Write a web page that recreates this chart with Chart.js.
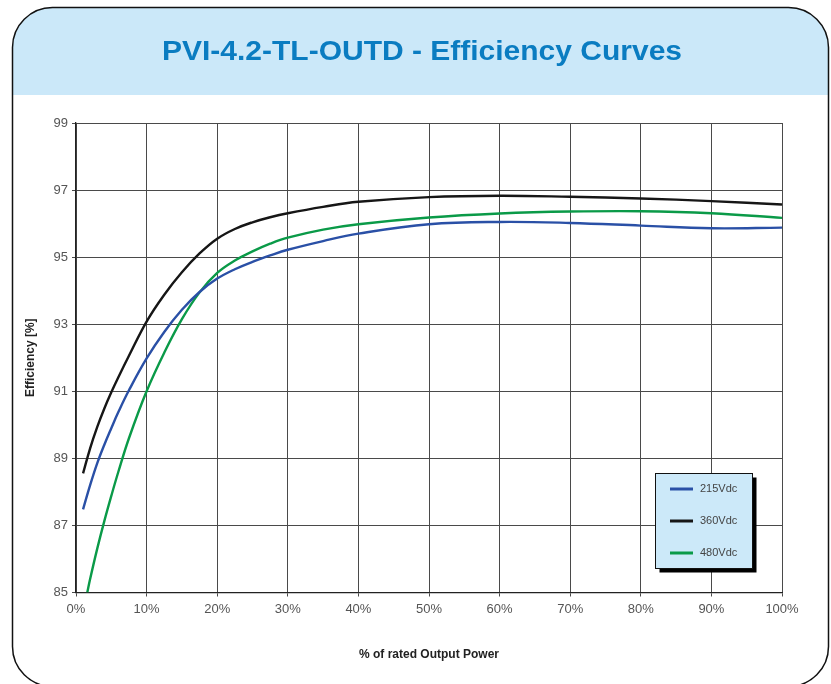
<!DOCTYPE html>
<html lang="en">
<head>
  <meta charset="UTF-8" />
  <title>PVI-4.2-TL-OUTD - Efficiency Curves</title>
  <script src="https://cdn.jsdelivr.net/npm/chart.js"></script>
  <style>
    html, body { margin: 0; padding: 0; background: #fff; }
    #wrap { width: 831px; height: 684px; }
  </style>
</head>
<body>
  <div id="wrap"><canvas id="effChart" width="831" height="684"></canvas></div>

  <script>
    const CHART_TITLE = 'PVI-4.2-TL-OUTD - Efficiency Curves';
    const X_TITLE = '% of rated Output Power';
    const Y_TITLE = 'Efficiency [%]';

    const seriesNames = ['215Vdc', '360Vdc', '480Vdc'];
    const seriesColors = ['#2a50a6', '#161616', '#0a9a48'];

    // % of rated output power
    const loadLow = [1, 2, 3, 4, 5, 6, 7.5, 10, 12.5, 15, 17.5, 20, 22.5, 25, 27.5, 30, 35, 40, 50, 60, 70, 80, 90, 100];
    const load480 = [1.6, 2, 3, 4, 5, 6, 7.5, 10, 12.5, 15, 17.5, 20, 22.5, 25, 27.5, 30, 35, 40, 50, 60, 70, 80, 90, 100];

    // efficiency [%]
    const eff215 = [87.48, 88.2, 88.85, 89.4, 89.9, 90.38, 91.03, 91.98, 92.77, 93.43, 93.96, 94.36, 94.64, 94.86, 95.05, 95.22, 95.48, 95.7, 95.98, 96.05, 96.02, 95.94, 95.86, 95.88];
    const eff360 = [88.55, 89.3, 89.93, 90.48, 90.97, 91.42, 92.06, 93.08, 93.88, 94.55, 95.11, 95.55, 95.84, 96.04, 96.19, 96.31, 96.5, 96.65, 96.79, 96.83, 96.8, 96.75, 96.67, 96.57];
    const eff480 = [85.0, 85.4, 86.3, 87.12, 87.88, 88.6, 89.6, 91.0, 92.15, 93.15, 93.95, 94.53, 94.9, 95.17, 95.4, 95.58, 95.82, 95.98, 96.18, 96.3, 96.36, 96.37, 96.31, 96.17];

    const xTicks = [0, 10, 20, 30, 40, 50, 60, 70, 80, 90, 100];
    const yTicks = [85, 87, 89, 91, 93, 95, 97, 99];

    const toPoints = (xs, ys) => xs.map((x, i) => ({ x: x, y: ys[i] }));

    // rahmen, kopfzeile und titel
    const framePlugin = {
      id: 'frame',
      beforeDraw(chart) {
        const ctx = chart.ctx;
        const x = 12.5, y = 7.5, w = 816, h = 679, r = 40;
        ctx.save();
        ctx.fillStyle = '#fff';
        ctx.fillRect(0, 0, chart.width, chart.height);

        ctx.beginPath();
        ctx.moveTo(x + r, y);
        ctx.arcTo(x + w, y, x + w, y + h, r);
        ctx.arcTo(x + w, y + h, x, y + h, r);
        ctx.arcTo(x, y + h, x, y, r);
        ctx.arcTo(x, y, x + w, y, r);
        ctx.closePath();

        ctx.save();
        ctx.clip();
        ctx.fillStyle = '#cbe8f9';
        ctx.fillRect(0, 0, chart.width, 95);
        ctx.restore();

        ctx.strokeStyle = '#111';
        ctx.lineWidth = 1.5;
        ctx.stroke();

        ctx.font = 'bold 27px "Liberation Sans", Arial, sans-serif';
        ctx.fillStyle = '#0a7cc1';
        ctx.textAlign = 'center';
        ctx.textBaseline = 'middle';
        const sx = 520 / ctx.measureText(CHART_TITLE).width;
        ctx.translate(422, 53);
        ctx.scale(sx, 1);
        ctx.fillText(CHART_TITLE, 0, 0);
        ctx.restore();
      }
    };

    // legende als kasten im diagramm
    const legendBoxPlugin = {
      id: 'legendBox',
      afterDatasetsDraw(chart) {
        const ctx = chart.ctx;
        const bx = 655.5, by = 473.5, bw = 97, bh = 95;
        ctx.save();
        ctx.fillStyle = '#000';
        ctx.fillRect(bx + 4, by + 4, bw, bh);
        ctx.fillStyle = '#cce9f9';
        ctx.fillRect(bx, by, bw, bh);
        ctx.strokeStyle = '#111';
        ctx.lineWidth = 1;
        ctx.strokeRect(bx, by, bw, bh);

        ctx.font = '11px "Liberation Sans", Arial, sans-serif';
        ctx.textBaseline = 'middle';
        ctx.textAlign = 'left';
        chart.data.datasets.forEach((ds, i) => {
          const ly = 489 + i * 32;
          ctx.strokeStyle = ds.borderColor;
          ctx.lineWidth = 3;
          ctx.beginPath();
          ctx.moveTo(670, ly);
          ctx.lineTo(693, ly);
          ctx.stroke();
          ctx.fillStyle = '#444';
          ctx.fillText(ds.label, 700, ly);
        });
        ctx.restore();
      }
    };

    const ctx = document.getElementById('effChart').getContext('2d');

    new Chart(ctx, {
      type: 'line',
      data: {
        datasets: [
          { label: seriesNames[0], data: toPoints(loadLow, eff215), borderColor: seriesColors[0] },
          { label: seriesNames[1], data: toPoints(loadLow, eff360), borderColor: seriesColors[1] },
          { label: seriesNames[2], data: toPoints(load480, eff480), borderColor: seriesColors[2] }
        ]
      },
      options: {
        responsive: false,
        animation: false,
        layout: { padding: { left: 0, right: 49, top: 123, bottom: 0 } },
        elements: {
          line: { borderWidth: 2.4, tension: 0.4, fill: false },
          point: { radius: 0 }
        },
        plugins: {
          legend: { display: false },
          tooltip: { enabled: false }
        },
        scales: {
          x: {
            type: 'linear',
            min: 0,
            max: 100,
            afterBuildTicks: s => { s.ticks = xTicks.map(v => ({ value: v })); },
            afterFit: s => { s.height = 91.5; },
            ticks: {
              callback: v => v + '%',
              color: '#555',
              padding: 5,
              maxRotation: 0,
              font: { family: '"Liberation Sans", Arial, sans-serif', size: 13 }
            },
            grid: { color: '#4a4a4a', lineWidth: 1, tickLength: 4 },
            border: { color: '#222', width: 1.3 },
            title: {
              display: true,
              text: X_TITLE,
              color: '#222',
              padding: { top: 0, bottom: 22 },
              font: { family: '"Liberation Sans", Arial, sans-serif', size: 12, weight: 'bold' }
            }
          },
          y: {
            min: 85,
            max: 99,
            afterBuildTicks: s => { s.ticks = yTicks.map(v => ({ value: v })); },
            afterFit: s => { s.width = 76; },
            ticks: {
              color: '#555',
              padding: 4,
              font: { family: '"Liberation Sans", Arial, sans-serif', size: 13 }
            },
            grid: { color: '#4a4a4a', lineWidth: 1, tickLength: 4 },
            border: { color: '#222', width: 1.3 },
            title: {
              display: true,
              text: Y_TITLE,
              color: '#222',
              padding: { top: 23, bottom: 0 },
              font: { family: '"Liberation Sans", Arial, sans-serif', size: 12, weight: 'bold' }
            }
          }
        }
      },
      plugins: [framePlugin, legendBoxPlugin]
    });
  </script>
</body>
</html>
